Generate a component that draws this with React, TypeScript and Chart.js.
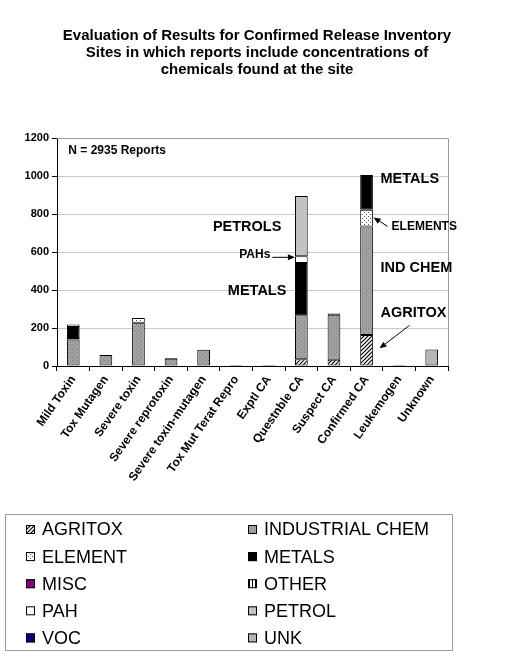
import React, { useEffect, useRef } from "react";
import { Chart, registerables } from "chart.js";

Chart.register(...registerables);

const TITLE_LINES = [
  "Evaluation of Results for Confirmed Release Inventory",
  "Sites in which reports include concentrations of",
  "chemicals found at the site",
];

const CATEGORIES = [
  "Mild Toxin",
  "Tox Mutagen",
  "Severe toxin",
  "Severe reprotoxin",
  "Severe toxin-mutagen",
  "Tox Mut Terat Repro",
  "Exptl CA",
  "Questnble CA",
  "Suspect CA",
  "Confirmed CA",
  "Leukemogen",
  "Unknown",
];

const AGRITOX = [0, 0, 0, 0, 0, 0, 0, 35, 33, 163, 0, 0];
const INDUSTRIAL_CHEM = [139, 58, 228, 38, 86, 2, 2, 232, 237, 571, 2, null];
const ELEMENT = [8, 0, 24, 0, 0, 0, 0, 0, 0, 89, 0, 0];
const METALS = [58, 0, 0, 4, 0, 0, 0, 275, 6, 182, 0, 0];
const MISC = [0, 0, 0, 0, 0, 0, 0, 0, 0, 0, 0, 0];
const OTHER = [0, 0, 0, 0, 0, 0, 0, 0, 0, 0, 0, 0];
const PAH = [14, 0, 0, 0, 0, 0, 0, 35, 0, 0, 0, 0];
const PETROL = [0, 0, 0, 0, 0, 0, 0, 318, 0, 0, 0, 0];
const VOC = [0, 0, 0, 0, 0, 0, 0, 0, 0, 0, 0, 0];
const UNK = [0, 0, 0, 0, 0, 0, 0, 0, 0, 0, 0, 87];

const Y_TICKS = [0, 200, 400, 600, 800, 1000, 1200];
const NOTE = "N = 2935 Reports";

const FONT = "'Liberation Sans', Arial, Helvetica, sans-serif";

type Ann = { text: string; cat: number; value: number; dx: number; align: CanvasTextAlign; size: number };
const ANNOTATIONS: Ann[] = [
  { text: NOTE, cat: 0, value: 1131, dx: -5, align: "left", size: 12 },
  { text: "PETROLS", cat: 7, value: 733, dx: -20, align: "right", size: 14.5 },
  { text: "PAHs", cat: 7, value: 588, dx: -31, align: "right", size: 12 },
  { text: "METALS", cat: 7, value: 393, dx: -15, align: "right", size: 14.5 },
  { text: "METALS", cat: 9, value: 983, dx: 14, align: "left", size: 14.5 },
  { text: "ELEMENTS", cat: 9, value: 735, dx: 25, align: "left", size: 12 },
  { text: "IND CHEM", cat: 9, value: 514, dx: 14, align: "left", size: 14.5 },
  { text: "AGRITOX", cat: 9, value: 277, dx: 14, align: "left", size: 14.5 },
];
const ARROWS = [
  { cat: 7, from: [-29, 572], to: [-6.5, 572] },
  { cat: 9, from: [21, 735], to: [7, 782] },
  { cat: 9, from: [43, 214], to: [13, 93] },
];

function makePattern(kind: string): CanvasPattern | string {
  const c = document.createElement("canvas");
  const ctx = c.getContext("2d")!;
  if (kind === "hatch") {
    c.width = 4; c.height = 4;
    ctx.fillStyle = "#fff"; ctx.fillRect(0, 0, 4, 4);
    ctx.strokeStyle = "#000"; ctx.lineWidth = 1.2;
    ctx.beginPath();
    ctx.moveTo(-1, 5); ctx.lineTo(5, -1);
    ctx.moveTo(-1, 1); ctx.lineTo(1, -1);
    ctx.moveTo(3, 5); ctx.lineTo(5, 3);
    ctx.stroke();
  } else if (kind === "ind") {
    c.width = 4; c.height = 4;
    ctx.fillStyle = "#a2a2a2"; ctx.fillRect(0, 0, 4, 4);
    ctx.fillStyle = "#7a7a7a";
    ctx.fillRect(0, 0, 1, 1); ctx.fillRect(2, 2, 1, 1);
  } else if (kind === "element") {
    c.width = 4; c.height = 4;
    ctx.fillStyle = "#fff"; ctx.fillRect(0, 0, 4, 4);
    ctx.fillStyle = "#555";
    ctx.fillRect(0, 0, 1, 1); ctx.fillRect(2, 2, 1, 1);
  } else if (kind === "other") {
    c.width = 3; c.height = 3;
    ctx.fillStyle = "#fff"; ctx.fillRect(0, 0, 3, 3);
    ctx.fillStyle = "#000"; ctx.fillRect(0, 0, 1, 3);
  } else if (kind === "petrol") {
    c.width = 4; c.height = 4;
    ctx.fillStyle = "#c4c4c4"; ctx.fillRect(0, 0, 4, 4);
    ctx.fillStyle = "#b0b0b0";
    ctx.fillRect(1, 1, 1, 1); ctx.fillRect(3, 3, 1, 1);
  } else {
    return kind;
  }
  return ctx.createPattern(c, "repeat")!;
}

const overlayPlugin = {
  id: "overlay",
  beforeDatasetsDraw(chart: any) {
    const { ctx, chartArea: a } = chart;
    ctx.save();
    ctx.strokeStyle = "#9a9a9a";
    ctx.lineWidth = 1;
    ctx.beginPath();
    ctx.moveTo(a.left, a.top + 0.5);
    ctx.lineTo(a.right + 0.5, a.top + 0.5);
    ctx.lineTo(a.right + 0.5, a.bottom);
    ctx.stroke();
    ctx.restore();
  },
  afterDraw(chart: any) {
    const { ctx } = chart;
    const xs = chart.scales.x;
    const ys = chart.scales.y;
    ctx.save();
    // title
    ctx.fillStyle = "#000";
    ctx.textAlign = "center";
    ctx.textBaseline = "alphabetic";
    ctx.font = `bold 15px ${FONT}`;
    TITLE_LINES.forEach((t, i) => ctx.fillText(t, 257, 39.5 + i * 17.4));

    // annotations
    ctx.textBaseline = "middle";
    ANNOTATIONS.forEach((an) => {
      ctx.font = `bold ${an.size}px ${FONT}`;
      ctx.textAlign = an.align;
      ctx.fillText(an.text, xs.getPixelForValue(an.cat) + an.dx, ys.getPixelForValue(an.value));
    });
    // arrows
    ctx.strokeStyle = "#000";
    ctx.fillStyle = "#000";
    ctx.lineWidth = 1;
    ARROWS.forEach((ar) => {
      const cx = xs.getPixelForValue(ar.cat);
      const x1 = cx + ar.from[0], y1 = ys.getPixelForValue(ar.from[1]);
      const x2 = cx + ar.to[0], y2 = ys.getPixelForValue(ar.to[1]);
      const ang = Math.atan2(y2 - y1, x2 - x1);
      const hl = 7, hw = 3;
      ctx.beginPath();
      ctx.moveTo(x1, y1);
      ctx.lineTo(x2 - hl * Math.cos(ang), y2 - hl * Math.sin(ang));
      ctx.stroke();
      ctx.beginPath();
      ctx.moveTo(x2, y2);
      ctx.lineTo(x2 - hl * Math.cos(ang) + hw * Math.sin(ang), y2 - hl * Math.sin(ang) - hw * Math.cos(ang));
      ctx.lineTo(x2 - hl * Math.cos(ang) - hw * Math.sin(ang), y2 - hl * Math.sin(ang) + hw * Math.cos(ang));
      ctx.closePath();
      ctx.fill();
    });

    // legend
    ctx.strokeStyle = "#9a9a9a";
    ctx.lineWidth = 1;
    ctx.strokeRect(5.5, 514.5, 447, 136);
    ctx.font = `18px ${FONT}`;
    ctx.textAlign = "left";
    ctx.textBaseline = "middle";
    chart.data.datasets.forEach((ds: any, i: number) => {
      const col = i % 2;
      const row = Math.floor(i / 2);
      const cy = 529.5 + row * 27.1;
      const sx = col === 0 ? 26 : 248;
      ctx.fillStyle = ds.backgroundColor;
      ctx.fillRect(sx, cy - 4.5, 9, 9);
      ctx.strokeStyle = "#000";
      ctx.strokeRect(sx + 0.5, cy - 4.5 + 0.5, 8, 8);
      ctx.fillStyle = "#000";
      ctx.fillText(ds.label, sx + 16, cy + 1);
    });
    ctx.restore();
  },
};

export default function App() {
  const ref = useRef<HTMLCanvasElement>(null);
  useEffect(() => {
    if (!ref.current) return;
    const mk = (label: string, data: (number | null)[], bg: CanvasPattern | string, extra: any = {}) => ({
      label,
      data,
      backgroundColor: bg,
      borderColor: "#000",
      borderWidth: 1,
      borderSkipped: false,
      categoryPercentage: 1,
      barPercentage: 0.39,
      ...extra,
    });
    const chart = new Chart(ref.current, {
      type: "bar",
      data: {
        labels: CATEGORIES,
        datasets: [
          mk("AGRITOX", AGRITOX, makePattern("hatch")),
          mk("INDUSTRIAL CHEM", INDUSTRIAL_CHEM, makePattern("ind"), { minBarLength: 1 }),
          mk("ELEMENT", ELEMENT, makePattern("element")),
          mk("METALS", METALS, "#000000"),
          mk("MISC", MISC, "#800080"),
          mk("OTHER", OTHER, makePattern("other")),
          mk("PAH", PAH, "#ffffff"),
          mk("PETROL", PETROL, makePattern("petrol")),
          mk("VOC", VOC, "#000080"),
          mk("UNK", UNK, "#b6b6b6"),
        ] as any,
      },
      options: {
        responsive: false,
        animation: false,
        layout: { padding: { left: 7, right: 62, top: 138, bottom: 151 } },
        plugins: { legend: { display: false }, tooltip: { enabled: false }, title: { display: false } },
        scales: {
          x: {
            stacked: true,
            afterFit: (s: any) => { s.height = 140; },
            grid: { drawOnChartArea: false, drawTicks: true, tickLength: 5, offset: true, color: "#000", tickColor: "#000" },
            border: { display: true, color: "#000", width: 1 },
            ticks: {
              autoSkip: false,
              minRotation: 55,
              maxRotation: 55,
              padding: 2,
              color: "#000",
              font: { family: FONT, size: 12, weight: "bold" },
            },
          },
          y: {
            stacked: true,
            min: 0,
            max: 1200,
            afterFit: (s: any) => { s.width = 50; },
            afterBuildTicks: (s: any) => { s.ticks = Y_TICKS.map((v) => ({ value: v })); },
            grid: { color: "#c8c8c8", tickColor: "#000", tickLength: 5, drawTicks: true },
            border: { display: true, color: "#000", width: 1 },
            ticks: {
              padding: 3,
              color: "#000",
              font: { family: FONT, size: 11, weight: "bold" },
              callback: (v: any) => String(v),
            },
          },
        },
      } as any,
      plugins: [overlayPlugin],
    });
    return () => chart.destroy();
  }, []);
  return (
    <div style={{ position: "absolute", left: 0, top: 0, width: 510, height: 657, background: "#fff" }}>
      <canvas ref={ref} width={510} height={657} style={{ display: "block" }} />
    </div>
  );
}
